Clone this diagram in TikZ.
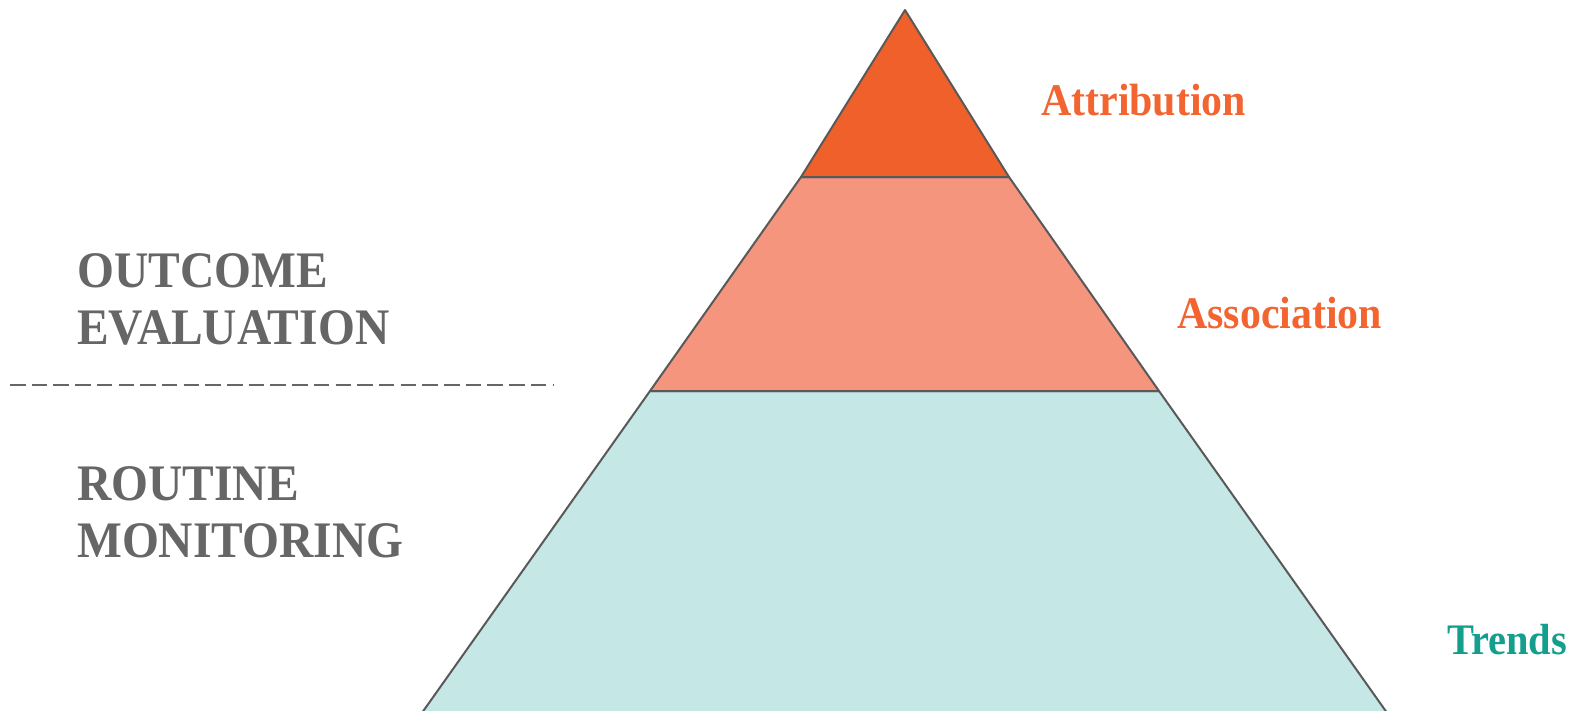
\documentclass[tikz,border=0pt]{standalone}
\usepackage{fontspec}
\setmainfont{Liberation Serif}
\definecolor{topc}{HTML}{F0602A}
\definecolor{midc}{HTML}{F5957D}
\definecolor{botc}{HTML}{C5E7E5}
\definecolor{edgec}{HTML}{595959}
\definecolor{graytxt}{HTML}{666666}
\definecolor{orangetxt}{HTML}{F26430}
\definecolor{tealtxt}{HTML}{139E8E}
\newcommand{\talltxt}[1]{\scalebox{1.01}[1.09]{#1}}
\begin{document}
\begin{tikzpicture}[x=1pt,y=-1pt,
  layer/.style={draw=edgec,line width=2pt,line join=round},
  sidelabel/.style={anchor=base west,inner sep=0pt,font=\fontsize{47}{57}\selectfont\bfseries,text=graytxt,align=left},
  levellabel/.style={anchor=base west,inner sep=0pt,font=\fontsize{41.5}{48}\selectfont\bfseries}]
\useasboundingbox (0,0) rectangle (1574,710);
\begin{scope}
\clip (0,0) rectangle (1574,710);
\filldraw[layer,fill=botc] (650,391) -- (1159,391) -- (1399.2,730) -- (409.8,730) -- cycle;
\end{scope}
\filldraw[layer,fill=midc] (801,177) -- (1009,177) -- (1159,391) -- (650,391) -- cycle;
\filldraw[layer,fill=topc] (905,10) -- (1009,177) -- (801,177) -- cycle;
\draw[graytxt,line width=2pt,dash pattern=on 15.5pt off 6.2pt] (10,385) -- (554,385);
\node[sidelabel] (oe1) at (77,287) {\talltxt{OUTCOME}};
\node[sidelabel] (oe2) at (77,344) {\talltxt{EVALUATION}};
\node[sidelabel] (rm1) at (77,500) {\talltxt{ROUTINE}};
\node[sidelabel] (rm2) at (77,557) {\talltxt{MONITORING}};
\node[levellabel,text=orangetxt] (attr) at (1041,115) {\talltxt{Attribution}};
\node[levellabel,text=orangetxt] (assoc) at (1177,328) {\talltxt{Association}};
\node[levellabel,text=tealtxt,font=\fontsize{40}{48}\selectfont\bfseries] (trends) at (1447,654) {\talltxt{Trends}};
\end{tikzpicture}
\end{document}
